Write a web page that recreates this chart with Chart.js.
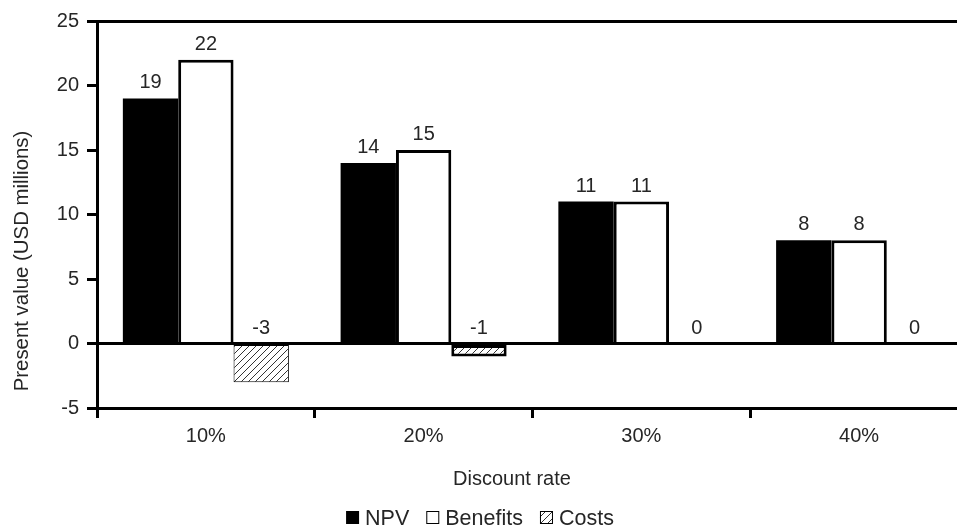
<!DOCTYPE html>
<html>
<head>
<meta charset="utf-8">
<script src="https://cdn.jsdelivr.net/npm/chart.js@4/dist/chart.umd.min.js"></script>
<style>
html,body{margin:0;padding:0;background:#fff;overflow:hidden;width:957px;height:527px;}
canvas{display:block;}
</style>
</head>
<body>
<canvas id="c" width="968" height="527"></canvas>
<script>
const categories = ['10%', '20%', '30%', '40%'];
const npvValues = [19, 14, 11, 8];
const benefitValues = [22, 15, 11, 8];
const costValues = [-3, -1, 0, 0];
const costBorderWidths = [1, 3, 0, 0];
const yMin = -5, yMax = 25, yStep = 5;
const seriesNames = ['NPV', 'Benefits', 'Costs'];
const xTitle = 'Discount rate';
const yTitle = 'Present value (USD millions)';

const FONT = '"Liberation Sans", Arial, sans-serif';
const TXT = '#262626';

function makeHatch() {
  const s = 7;
  const c = document.createElement('canvas');
  c.width = s; c.height = s;
  const g = c.getContext('2d');
  g.fillStyle = '#fff';
  g.fillRect(0, 0, s, s);
  g.strokeStyle = '#333';
  g.lineWidth = 1;
  g.beginPath();
  g.moveTo(0, s); g.lineTo(s, 0);
  g.moveTo(-1, 1); g.lineTo(1, -1);
  g.moveTo(s - 1, s + 1); g.lineTo(s + 1, s - 1);
  g.stroke();
  return g.createPattern(c, 'repeat');
}
const hatch = makeHatch();

const overlay = {
  id: 'overlay',
  afterDraw(chart) {
    const ctx = chart.ctx;
    const y = chart.scales.y;
    ctx.save();
    // data labels
    ctx.fillStyle = TXT;
    ctx.font = '20px ' + FONT;
    ctx.textAlign = 'center';
    ctx.textBaseline = 'alphabetic';
    chart.data.datasets.forEach((ds, di) => {
      const meta = chart.getDatasetMeta(di);
      meta.data.forEach((bar, i) => {
        const v = ds.data[i];
        const py = y.getPixelForValue(Math.max(v, 0)) - 10;
        ctx.fillText(String(v), bar.x, py);
      });
    });
    // x title
    ctx.font = '20px ' + FONT;
    ctx.fillText(xTitle, 512, 485);
    // y title
    ctx.save();
    ctx.translate(28, 261);
    ctx.rotate(-Math.PI / 2);
    ctx.font = '20.4px ' + FONT;
    ctx.fillText(yTitle, 0, 0);
    ctx.restore();
    // legend
    ctx.font = '21.5px ' + FONT;
    const box = 13, gapBox = 6, gapItem = 17;
    const widths = seriesNames.map(n => ctx.measureText(n).width);
    let total = 0;
    widths.forEach((w, i) => { total += box + gapBox + w + (i < widths.length - 1 ? gapItem : 0); });
    let x = 480 - total / 2;
    const by = 511;
    ctx.textAlign = 'left';
    seriesNames.forEach((n, i) => {
      if (i === 0) {
        ctx.fillStyle = '#000';
        ctx.fillRect(x, by, box, box);
      } else {
        ctx.fillStyle = i === 1 ? '#fff' : hatch;
        ctx.fillRect(x, by, box, box);
        ctx.strokeStyle = '#000';
        ctx.lineWidth = 1;
        ctx.strokeRect(x + 0.5, by + 0.5, box - 1, box - 1);
      }
      ctx.fillStyle = TXT;
      ctx.fillText(n, x + box + gapBox, 525);
      x += box + gapBox + widths[i] + gapItem;
    });
    ctx.restore();
  }
};

new Chart(document.getElementById('c'), {
  type: 'bar',
  data: {
    labels: categories,
    datasets: [
      { label: seriesNames[0], data: npvValues, backgroundColor: '#000', borderWidth: 0 },
      { label: seriesNames[1], data: benefitValues, backgroundColor: '#fff', borderColor: '#000', borderWidth: 3, borderSkipped: 'start' },
      { label: seriesNames[2], data: costValues, backgroundColor: hatch, borderColor: '#000', borderWidth: costBorderWidths, borderSkipped: false }
    ]
  },
  options: {
    responsive: false,
    animation: false,
    devicePixelRatio: 1,
    layout: { padding: { top: 21, right: 0, left: 0, bottom: 0 } },
    datasets: { bar: { categoryPercentage: 0.7625, barPercentage: 1 } },
    plugins: { legend: { display: false }, tooltip: { enabled: false } },
    scales: {
      x: {
        afterFit(s) { s.height = 119; },
        grid: { offset: true, drawOnChartArea: false, drawTicks: true, tickLength: 10, tickWidth: 3, tickColor: '#000', color: '#000', lineWidth: 3 },
        border: { display: true, color: '#000', width: 3 },
        ticks: { color: TXT, font: { size: 20, family: FONT }, padding: 6 }
      },
      y: {
        z: 1,
        min: yMin, max: yMax,
        afterFit(s) { s.width = 97; },
        grid: {
          color: c => (c.tick && (c.tick.value === 0 || c.tick.value === yMax)) ? '#000' : 'rgba(0,0,0,0)',
          lineWidth: 3,
          drawTicks: true, tickLength: 10, tickWidth: 3, tickColor: '#000'
        },
        border: { display: true, color: '#000', width: 3 },
        ticks: { stepSize: yStep, color: TXT, font: { size: 20, family: FONT }, padding: 8 }
      }
    }
  },
  plugins: [overlay]
});
</script>
</body>
</html>
